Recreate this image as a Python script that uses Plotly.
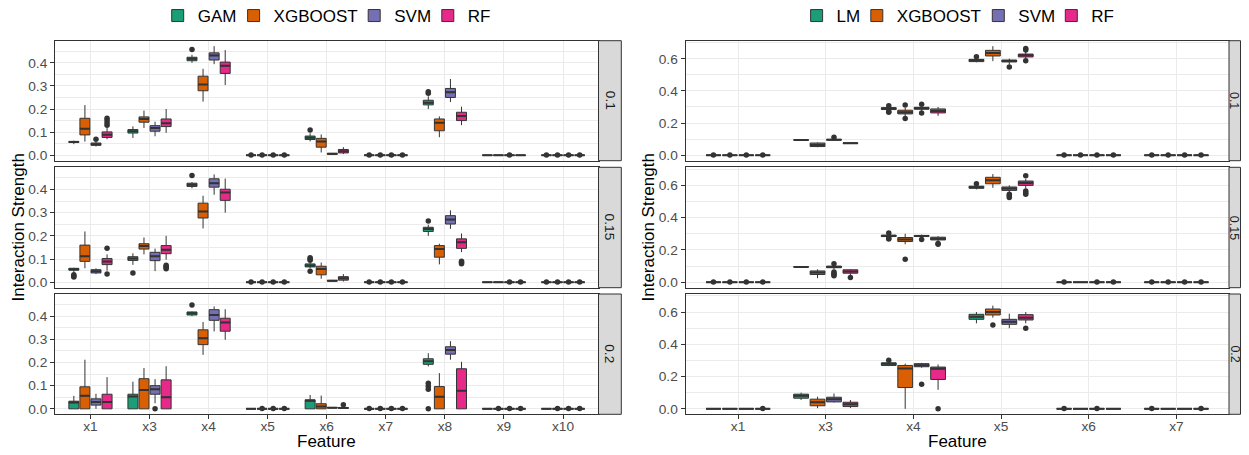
import plotly.graph_objects as go

W, H = 1249, 455
PAGE_OFFSET = 8          # default body margin of the html page
FW, FH = W - PAGE_OFFSET, H - PAGE_OFFSET

# ---------------- data ----------------
LEFT_FEATURES = ["x1", "x3", "x4", "x5", "x6", "x7", "x8", "x9", "x10"]
RIGHT_FEATURES = ["x1", "x3", "x4", "x5", "x6", "x7"]
LEFT_MODELS = ["GAM", "XGBOOST", "SVM", "RF"]
RIGHT_MODELS = ["LM", "XGBOOST", "SVM", "RF"]
ROWS = ["0.1", "0.15", "0.2"]
COLORS = ["#1B9E77", "#D95F02", "#7570B3", "#E7298A"]

Z = (0, 0, 0, 0, 0)
e = 0.0015  # tiny non-zero outliers seen as dots at 0

# (lower whisker, q1, median, q3, upper whisker) per feature
L10_GAM = [(0.048, 0.055, 0.057, 0.060, 0.063), (0.075, 0.096, 0.104, 0.111, 0.125), (0.400, 0.409, 0.417, 0.424, 0.435), Z, (0.060, 0.068, 0.076, 0.083, 0.095), Z, (0.200, 0.218, 0.227, 0.238, 0.255), Z, Z]
L10_XGB = [(0.059, 0.088, 0.115, 0.160, 0.217), (0.118, 0.143, 0.157, 0.166, 0.193), (0.232, 0.279, 0.306, 0.342, 0.374), Z, (0.012, 0.035, 0.059, 0.073, 0.090), Z, (0.078, 0.106, 0.141, 0.157, 0.168), Z, Z]
L10_SVM = [(0.038, 0.043, 0.048, 0.053, 0.058), (0.082, 0.104, 0.118, 0.128, 0.145), (0.394, 0.412, 0.432, 0.443, 0.472), Z, (0.002, 0.004, 0.006, 0.008, 0.010), Z, (0.230, 0.250, 0.273, 0.289, 0.330), Z, Z]
L10_RF = [(0.069, 0.077, 0.089, 0.101, 0.118), (0.097, 0.124, 0.138, 0.157, 0.200), (0.304, 0.354, 0.387, 0.403, 0.455), Z, (0.005, 0.010, 0.017, 0.025, 0.035), Z, (0.130, 0.150, 0.170, 0.186, 0.210), Z, Z]
L10_GAM_OUT = [[], [], [0.458], [e], [0.109], [e], [0.268, 0.275], [], [e]]
L10_XGB_OUT = [[], [], [], [e], [], [e], [], [], [e]]
L10_SVM_OUT = [[0.069], [], [], [e], [], [e], [], [e], [e]]
L10_RF_OUT = [[0.13, 0.14, 0.15, 0.16], [], [], [e], [], [e], [], [], [e]]

L15_GAM = [(0.040, 0.052, 0.056, 0.060, 0.062), (0.075, 0.094, 0.102, 0.110, 0.125), (0.405, 0.413, 0.420, 0.427, 0.432), Z, (0.060, 0.066, 0.072, 0.079, 0.085), Z, (0.200, 0.219, 0.229, 0.237, 0.248), Z, Z]
L15_XGB = [(0.060, 0.090, 0.112, 0.160, 0.219), (0.120, 0.143, 0.156, 0.166, 0.193), (0.232, 0.277, 0.305, 0.341, 0.373), Z, (0.015, 0.032, 0.057, 0.069, 0.085), Z, (0.077, 0.108, 0.143, 0.158, 0.166), Z, Z]
L15_SVM = [(0.035, 0.040, 0.047, 0.054, 0.060), (0.048, 0.093, 0.112, 0.129, 0.145), (0.377, 0.410, 0.427, 0.446, 0.465), Z, (0.003, 0.005, 0.006, 0.008, 0.010), Z, (0.230, 0.251, 0.270, 0.287, 0.310), Z, Z]
L15_RF = [(0.050, 0.076, 0.089, 0.102, 0.120), (0.097, 0.123, 0.140, 0.158, 0.200), (0.300, 0.353, 0.387, 0.401, 0.447), Z, (0.003, 0.009, 0.017, 0.024, 0.035), Z, (0.130, 0.146, 0.172, 0.187, 0.210), Z, Z]
L15_GAM_OUT = [[0.023, 0.027, 0.032], [0.040], [0.460], [e], [0.047, 0.095, 0.100, 0.106], [e], [0.264], [], [e]]
L15_XGB_OUT = [[], [], [], [e], [], [e], [], [], [e]]
L15_SVM_OUT = [[], [], [], [e], [], [e], [], [e], [e]]
L15_RF_OUT = [[0.036, 0.146], [0.058, 0.063, 0.068, 0.073], [], [e], [], [e], [0.080, 0.085, 0.090], [e], [e]]

L20_GAM = [(0, 0, 0.027, 0.033, 0.056), (0, 0, 0.053, 0.063, 0.117), (0.400, 0.405, 0.412, 0.418, 0.420), Z, (0, 0, 0.035, 0.039, 0.060), Z, (0.183, 0.192, 0.205, 0.216, 0.240), Z, Z]
L20_XGB = [(0, 0, 0.056, 0.095, 0.212), (0, 0, 0.081, 0.130, 0.176), (0.233, 0.277, 0.305, 0.341, 0.375), Z, (0, 0, 0.010, 0.022, 0.057), Z, (0, 0, 0.052, 0.096, 0.154), Z, Z]
L20_SVM = [(0, 0.016, 0.030, 0.043, 0.065), (0.024, 0.063, 0.084, 0.100, 0.128), (0.334, 0.382, 0.405, 0.428, 0.442), Z, (0.002, 0.004, 0.005, 0.006, 0.008), Z, (0.212, 0.236, 0.254, 0.268, 0.292), Z, Z]
L20_RF = [(0, 0, 0.030, 0.063, 0.137), (0, 0, 0.050, 0.125, 0.184), (0.298, 0.335, 0.373, 0.391, 0.430), Z, (0.001, 0.002, 0.004, 0.006, 0.008), Z, (0, 0, 0.078, 0.173, 0.203), Z, Z]
L20_GAM_OUT = [[], [], [0.448], [], [], [e], [0.0, 0.085, 0.097, 0.110], [], []]
L20_XGB_OUT = [[], [], [], [e], [], [e], [], [e], [e]]
L20_SVM_OUT = [[], [0.0], [], [e], [], [e], [], [e], [e]]
L20_RF_OUT = [[], [], [], [e], [0.018], [e], [], [e], [e]]

R10_LM = [Z, (0.092, 0.094, 0.095, 0.096, 0.098), (0.275, 0.284, 0.290, 0.296, 0.302), (0.578, 0.582, 0.590, 0.596, 0.600), Z, Z]
R10_XGB = [Z, (0.050, 0.054, 0.064, 0.076, 0.080), (0.240, 0.257, 0.267, 0.280, 0.295), (0.585, 0.617, 0.636, 0.652, 0.678), Z, Z]
R10_SVM = [Z, (0.092, 0.094, 0.096, 0.099, 0.104), (0.275, 0.286, 0.292, 0.298, 0.305), (0.565, 0.580, 0.586, 0.592, 0.600), Z, Z]
R10_RF = [Z, (0.072, 0.073, 0.075, 0.077, 0.079), (0.245, 0.263, 0.275, 0.288, 0.300), (0.595, 0.611, 0.621, 0.629, 0.645), Z, Z]
R10_LM_OUT = [[e], [], [0.268, 0.272, 0.308], [0.613], [e], [e]]
R10_XGB_OUT = [[e], [], [0.228, 0.313], [], [e], [e]]
R10_SVM_OUT = [[e], [0.112], [0.263, 0.317], [0.549], [e], [e]]
R10_RF_OUT = [[e], [], [], [0.588, 0.654, 0.664], [e], [e]]

R15_LM = [Z, (0.092, 0.094, 0.095, 0.096, 0.098), (0.275, 0.283, 0.287, 0.292, 0.300), (0.575, 0.582, 0.588, 0.595, 0.600), Z, Z]
R15_XGB = [Z, (0.025, 0.048, 0.060, 0.070, 0.080), (0.235, 0.252, 0.265, 0.277, 0.300), (0.585, 0.610, 0.631, 0.650, 0.670), Z, Z]
R15_SVM = [Z, (0.080, 0.090, 0.095, 0.100, 0.108), (0.278, 0.283, 0.287, 0.290, 0.295), (0.560, 0.569, 0.580, 0.590, 0.600), Z, Z]
R15_RF = [Z, (0.040, 0.056, 0.066, 0.077, 0.080), (0.250, 0.262, 0.270, 0.279, 0.285), (0.580, 0.600, 0.614, 0.627, 0.640), Z, Z]
R15_LM_OUT = [[e], [], [0.268, 0.272, 0.305], [0.610], [e], [e]]
R15_XGB_OUT = [[e], [], [0.143], [], [], [e]]
R15_SVM_OUT = [[e], [0.040, 0.047, 0.055, 0.063, 0.115], [0.265], [0.525, 0.535, 0.545], [e], [e]]
R15_RF_OUT = [[e], [0.030], [0.235, 0.240], [0.545, 0.555, 0.565, 0.660], [e], [e]]

R20_LM = [Z, (0.055, 0.066, 0.081, 0.091, 0.100), (0.265, 0.269, 0.280, 0.285, 0.295), (0.530, 0.555, 0.571, 0.586, 0.600), Z, Z]
R20_XGB = [Z, (0.004, 0.019, 0.041, 0.060, 0.075), (0.0, 0.132, 0.250, 0.269, 0.280), (0.565, 0.582, 0.600, 0.619, 0.640), Z, Z]
R20_SVM = [Z, (0.040, 0.043, 0.060, 0.072, 0.095), (0.255, 0.261, 0.271, 0.280, 0.285), (0.500, 0.524, 0.540, 0.555, 0.590), Z, Z]
R20_RF = [Z, (0.005, 0.014, 0.029, 0.041, 0.055), (0.118, 0.182, 0.248, 0.259, 0.275), (0.530, 0.551, 0.565, 0.584, 0.600), Z, Z]
R20_LM_OUT = [[], [], [0.302], [], [e], [e]]
R20_XGB_OUT = [[], [], [], [0.520], [], []]
R20_SVM_OUT = [[], [], [0.153], [], [e], []]
R20_RF_OUT = [[e], [], [0.0], [0.499], [], [e]]

LEFT_STATS = [[L10_GAM, L10_XGB, L10_SVM, L10_RF], [L15_GAM, L15_XGB, L15_SVM, L15_RF], [L20_GAM, L20_XGB, L20_SVM, L20_RF]]
LEFT_OUT = [[L10_GAM_OUT, L10_XGB_OUT, L10_SVM_OUT, L10_RF_OUT], [L15_GAM_OUT, L15_XGB_OUT, L15_SVM_OUT, L15_RF_OUT], [L20_GAM_OUT, L20_XGB_OUT, L20_SVM_OUT, L20_RF_OUT]]
RIGHT_STATS = [[R10_LM, R10_XGB, R10_SVM, R10_RF], [R15_LM, R15_XGB, R15_SVM, R15_RF], [R20_LM, R20_XGB, R20_SVM, R20_RF]]
RIGHT_OUT = [[R10_LM_OUT, R10_XGB_OUT, R10_SVM_OUT, R10_RF_OUT], [R15_LM_OUT, R15_XGB_OUT, R15_SVM_OUT, R15_RF_OUT], [R20_LM_OUT, R20_XGB_OUT, R20_SVM_OUT, R20_RF_OUT]]

# ---------------- styling / layout ----------------
FONT = "Liberation Sans, Arial, sans-serif"
DARK = "#333333"
GRID = "#EBEBEB"
DODGE = 0.75
SLOT = DODGE / 4
BOXW = SLOT * 0.9

# positions in page pixels
ROW_PX = [(40.7, 160.7), (167.3, 287.7), (294.0, 414.3)]
PANEL_X = [(55.0, 598.5), (685.5, 1229.0)]
STRIP_X = [(598.5, 621.3), (1229.0, 1240.5)]
YRANGE = [[-0.0236, 0.4956], [-0.0339, 0.712]]
YDTICK = [0.1, 0.2]
LEGEND_TEXT_X = [[197.7, 273.6, 394.2, 467.8], [836.6, 896.8, 1018.3, 1091.3]]
YTITLE_X = [18.0, 648.0]


def fx(p):
    return (p - PAGE_OFFSET) / FW


def fy(p):
    return 1 - (p - PAGE_OFFSET) / FH


fig = go.Figure()
layout = dict(
    width=FW, height=FH, autosize=False,
    margin=dict(l=0, r=0, t=0, b=0, autoexpand=False),
    paper_bgcolor="white", plot_bgcolor="white",
    boxmode="overlay",
    font=dict(family=FONT, color="#1A1A1A"),
    shapes=[], annotations=[],
)

panels = [
    (LEFT_FEATURES, LEFT_MODELS, LEFT_STATS, LEFT_OUT),
    (RIGHT_FEATURES, RIGHT_MODELS, RIGHT_STATS, RIGHT_OUT),
]

for side, (feats, models, stats, outs) in enumerate(panels):
    nfeat = len(feats)
    for r in range(3):
        k = side * 3 + r + 1
        xa = "x" if k == 1 else f"x{k}"
        ya = "y" if k == 1 else f"y{k}"
        for j, model in enumerate(models):
            li = side * 4 + j + 1
            legname = "legend" if li == 1 else f"legend{li}"
            vals = stats[r][j]
            pos = [(i + 1) + (j - 1.5) * SLOT for i in range(nfeat)]
            fig.add_trace(go.Box(
                x=pos,
                lowerfence=[v[0] for v in vals],
                q1=[v[1] for v in vals],
                median=[v[2] for v in vals],
                q3=[v[3] for v in vals],
                upperfence=[v[4] for v in vals],
                width=BOXW, whiskerwidth=0, boxpoints=False,
                fillcolor=COLORS[j], line=dict(color=DARK, width=1),
                name=model, legendgroup=f"{side}-{model}", legend=legname,
                showlegend=(r == 0), xaxis=xa, yaxis=ya, hoverinfo="skip",
            ))
            # thicker median line (ggplot fatten)
            mx, my = [], []
            for p, v in zip(pos, vals):
                mx += [p - BOXW / 2, p + BOXW / 2, None]
                my += [v[2], v[2], None]
            fig.add_trace(go.Scatter(
                x=mx, y=my, mode="lines", line=dict(color=DARK, width=2),
                showlegend=False, xaxis=xa, yaxis=ya, hoverinfo="skip",
            ))
            ox, oy = [], []
            for p, o in zip(pos, outs[r][j]):
                for val in o:
                    ox.append(p)
                    oy.append(val)
            if ox:
                fig.add_trace(go.Scatter(
                    x=ox, y=oy, mode="markers",
                    marker=dict(color=DARK, size=5.5),
                    showlegend=False, xaxis=xa, yaxis=ya, hoverinfo="skip",
                ))
            if r == 0:
                layout[legname] = dict(
                    orientation="h", x=fx(LEGEND_TEXT_X[side][j] - 40), xanchor="left",
                    y=fy(16.0), yanchor="middle", bgcolor="rgba(0,0,0,0)",
                    borderwidth=0,
                    font=dict(size=17, color="black", family=FONT),
                    itemwidth=30,
                )

        bottom = (r == 2)
        y0, y1 = ROW_PX[r]
        xdom = [fx(PANEL_X[side][0]), fx(PANEL_X[side][1])]
        ydom = [fy(y1), fy(y0)]
        layout["xaxis" if k == 1 else f"xaxis{k}"] = dict(
            domain=xdom, anchor=ya, range=[0.4, nfeat + 0.6], automargin=False,
            tickmode="array", tickvals=list(range(1, nfeat + 1)), ticktext=feats,
            showticklabels=bottom, ticks="outside" if bottom else "",
            ticklen=4, tickwidth=1, tickcolor=DARK, ticklabelstandoff=-5,
            tickfont=dict(size=13.7, color="#4D4D4D", family=FONT),
            showgrid=True, gridcolor=GRID, gridwidth=1.1, zeroline=False,
            showline=True, mirror=True, linecolor=DARK, linewidth=1,
        )
        layout["yaxis" if k == 1 else f"yaxis{k}"] = dict(
            domain=ydom, anchor=xa, range=YRANGE[side], automargin=False,
            tick0=0, dtick=YDTICK[side], tickformat=".1f",
            ticks="outside", ticklen=4, tickwidth=1, tickcolor=DARK,
            tickfont=dict(size=13.7, color="#4D4D4D", family=FONT),
            showgrid=True, gridcolor=GRID, gridwidth=1.1, zeroline=False,
            minor=dict(dtick=YDTICK[side] / 2, showgrid=True, gridcolor=GRID, gridwidth=0.6),
            showline=True, mirror=True, linecolor=DARK, linewidth=1,
        )
        # facet strip
        layout["shapes"].append(dict(
            type="rect", xref="paper", yref="paper",
            x0=fx(STRIP_X[side][0]), x1=fx(STRIP_X[side][1]),
            y0=fy(y1), y1=fy(y0),
            fillcolor="#D9D9D9", line=dict(color=DARK, width=1), layer="above",
        ))
        layout["annotations"].append(dict(
            x=fx((STRIP_X[side][0] + STRIP_X[side][1]) / 2), y=fy((y0 + y1) / 2),
            xref="paper", yref="paper", text=ROWS[r], showarrow=False,
            textangle=90, font=dict(size=13.7 if side == 0 else 12.5, color="#1A1A1A", family=FONT),
            xanchor="center", yanchor="middle",
        ))

    # axis titles
    layout["annotations"].append(dict(
        x=fx((PANEL_X[side][0] + PANEL_X[side][1]) / 2), y=fy(441.0),
        xref="paper", yref="paper", text="Feature", showarrow=False,
        font=dict(size=17, color="black", family=FONT),
        xanchor="center", yanchor="middle",
    ))
    layout["annotations"].append(dict(
        x=fx(YTITLE_X[side]), y=fy((ROW_PX[0][0] + ROW_PX[2][1]) / 2),
        xref="paper", yref="paper", text="Interaction Strength", showarrow=False,
        textangle=-90, font=dict(size=17, color="black", family=FONT),
        xanchor="center", yanchor="middle",
    ))

fig.update_layout(**layout)
fig.write_html("out.html")
